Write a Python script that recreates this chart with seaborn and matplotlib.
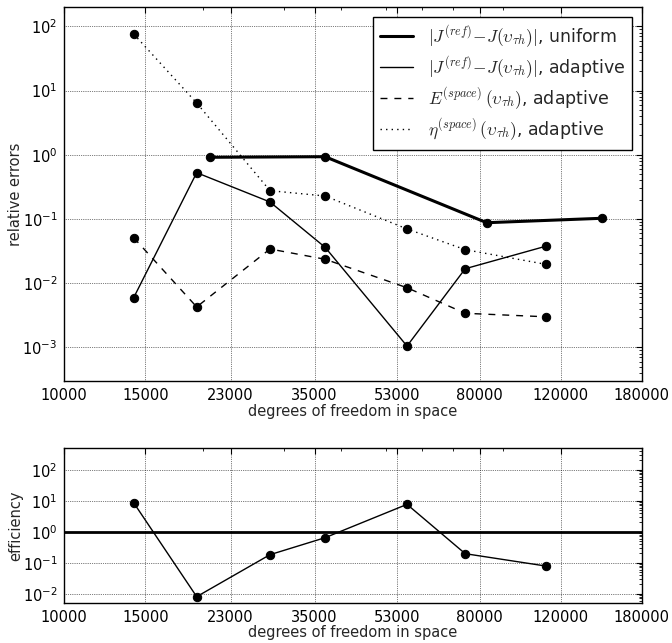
import numpy as np
import pandas as pd
import matplotlib
matplotlib.use("Agg")
import matplotlib.pyplot as plt
import seaborn as sns
from matplotlib.lines import Line2D
from matplotlib.ticker import NullFormatter, LogLocator, FixedLocator

# ---------------- data ----------------
dofs_adaptive = [14150, 19400, 28000, 36900, 55600, 74400, 111300]
dofs_uniform = [20770, 36900, 82850, 147600]

err_uniform = [0.914, 0.933, 0.0875, 0.1026]
err_adaptive = [0.00594, 0.526, 0.184, 0.0362, 0.00105, 0.0168, 0.0376]
est_space = [0.0512, 0.00427, 0.0341, 0.0236, 0.0085, 0.0034, 0.0030]
eta_space = [76.0, 6.4, 0.276, 0.228, 0.070, 0.0333, 0.0197]

efficiency = [8.6, 0.0080, 0.181, 0.64, 7.6, 0.195, 0.078]

xticks = [10000, 15000, 23000, 35000, 53000, 80000, 120000, 180000]
xtick_labels = ["10000", "15000", "23000", "35000", "53000", "80000", "120000", "180000"]

labels = [r"$|J^{(ref)}\!-\!J(\upsilon_{\tau h})|$, uniform",
          r"$|J^{(ref)}\!-\!J(\upsilon_{\tau h})|$, adaptive",
          r"$E^{(space)}\,(\upsilon_{\tau h})$, adaptive",
          r"$\eta^{(space)}\,(\upsilon_{\tau h})$, adaptive"]

# ---------------- style ----------------
sns.set_style("white")
plt.rcParams.update({
    "font.family": ["DejaVu Sans"],
    "font.size": 10.5,
    "mathtext.fontset": "cm",
    "axes.edgecolor": "k",
    "axes.linewidth": 1.0,
    "xtick.direction": "in",
    "ytick.direction": "in",
    "xtick.top": True,
    "ytick.right": True,
    "xtick.major.size": 4,
    "ytick.major.size": 4,
    "xtick.minor.size": 2,
    "ytick.minor.size": 2,
    "xtick.color": "k",
    "ytick.color": "k",
    "xtick.labelsize": 10.5,
    "ytick.labelsize": 10.5,
    "axes.labelsize": 10.5,
})

fig = plt.figure(figsize=(6.72, 6.43), dpi=100)
ax1 = fig.add_axes([64.3 / 672, 1 - 381 / 643, 577.4 / 672, 374 / 643])
ax2 = fig.add_axes([64.3 / 672, 1 - 603 / 643, 577.4 / 672, 155 / 643])

mk = dict(marker="o", markersize=6, markeredgecolor="k", markerfacecolor="k", color="k")

df_u = pd.DataFrame({"x": dofs_uniform, "y": err_uniform})
df_a = pd.DataFrame({"x": dofs_adaptive, "err": err_adaptive, "est": est_space,
                     "eta": eta_space, "eff": efficiency})

sns.lineplot(data=df_u, x="x", y="y", ax=ax1, linewidth=2.2, **mk)
sns.lineplot(data=df_a, x="x", y="err", ax=ax1, linewidth=1.0, **mk)
sns.lineplot(data=df_a, x="x", y="est", ax=ax1, linewidth=1.0, linestyle=(0, (5, 5)), **mk)
sns.lineplot(data=df_a, x="x", y="eta", ax=ax1, linewidth=1.0, linestyle=(0, (1, 3)), **mk)

sns.lineplot(data=df_a, x="x", y="eff", ax=ax2, linewidth=1.0, **mk)
ax2.axhline(1.0, color="k", linewidth=2.0)

for ax, ylim, ylab, xpad in [(ax1, (3e-4, 200), "relative errors", 0.5),
                             (ax2, (0.005, 500), "efficiency", 0.0)]:
    ax.set_xscale("log")
    ax.set_yscale("log")
    ax.set_xlim(10000, 180000)
    ax.set_ylim(*ylim)
    ax.xaxis.set_major_locator(FixedLocator(xticks))
    ax.set_xticklabels(xtick_labels)
    ax.xaxis.set_minor_locator(LogLocator(base=10, subs=np.arange(2, 10)))
    ax.xaxis.set_minor_formatter(NullFormatter())
    ax.yaxis.set_major_locator(LogLocator(base=10, numticks=20))
    ax.yaxis.set_minor_locator(LogLocator(base=10, subs=np.arange(2, 10), numticks=20))
    ax.yaxis.set_minor_formatter(NullFormatter())
    ax.grid(True, which="major", color="k", linestyle=":", linewidth=0.5)
    ax.set_xlabel("degrees of freedom in space", labelpad=xpad)
    ax.set_ylabel(ylab)
    ax.yaxis.set_label_coords(-0.071, 0.5)
    for s in ax.spines.values():
        s.set_visible(True)
        s.set_color("k")
    ax.tick_params(which="both", direction="in", top=True, right=True, pad=5)

handles = [Line2D([], [], color="k", linewidth=2.2),
           Line2D([], [], color="k", linewidth=1.0),
           Line2D([], [], color="k", linewidth=1.0, linestyle=(0, (5, 5))),
           Line2D([], [], color="k", linewidth=1.0, linestyle=(0, (1, 3)))]
leg = ax1.legend(handles, labels, loc="upper right", fontsize=12.5, frameon=True,
                 fancybox=False, edgecolor="k", framealpha=1.0, borderaxespad=0.55,
                 handlelength=1.9, handletextpad=0.85, labelspacing=0.27)
leg.get_frame().set_linewidth(1.0)

fig.savefig("out.png", dpi=100)
